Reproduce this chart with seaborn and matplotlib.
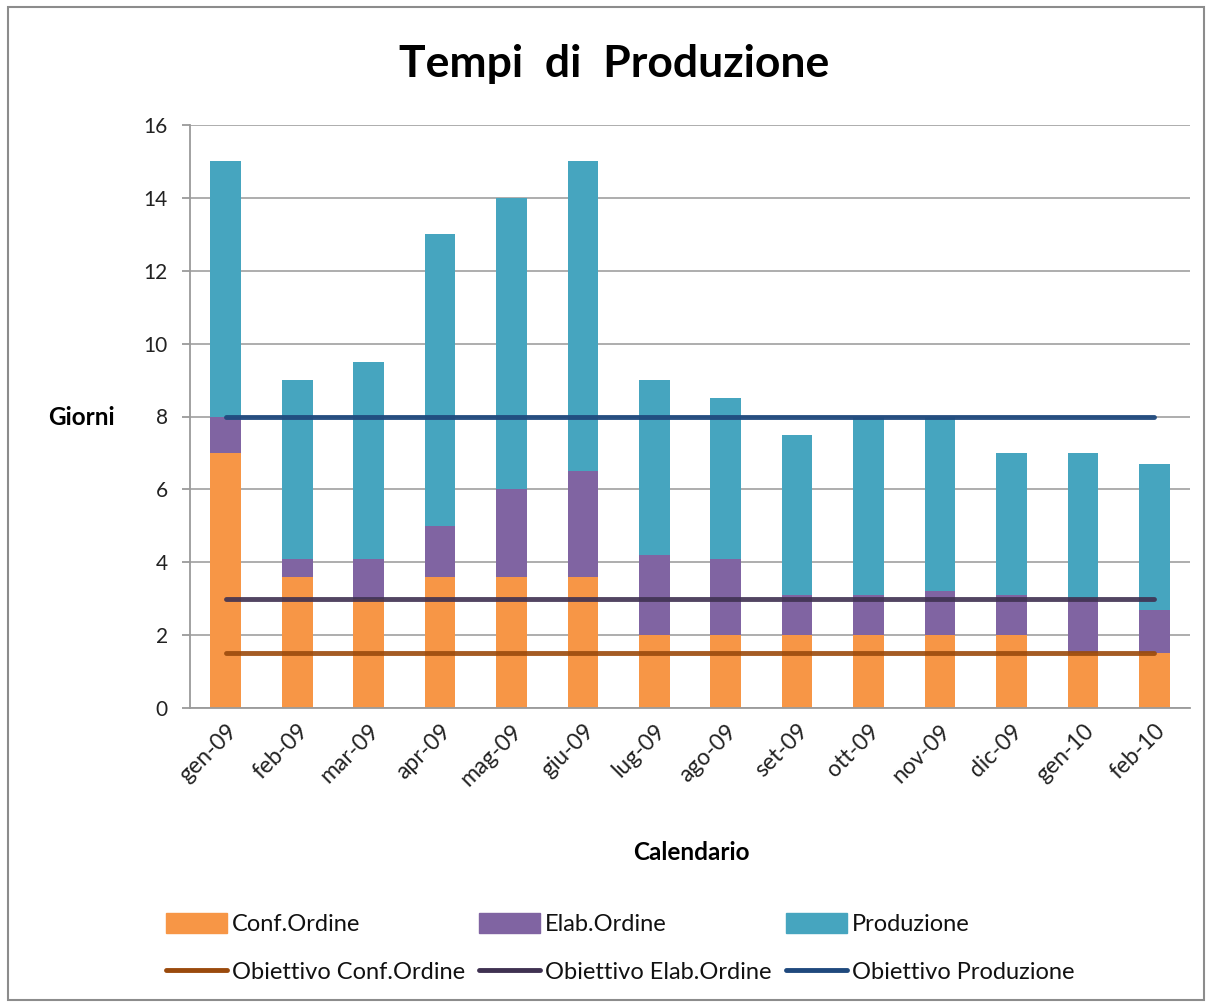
import matplotlib
matplotlib.use("Agg")
import matplotlib.pyplot as plt
import matplotlib.patches as mpatches
import matplotlib.lines as mlines
import seaborn as sns
import numpy as np
import pandas as pd

months = ["gen-09", "feb-09", "mar-09", "apr-09", "mag-09", "giu-09", "lug-09",
          "ago-09", "set-09", "ott-09", "nov-09", "dic-09", "gen-10", "feb-10"]
conf_ordine = [7.0, 3.6, 3.0, 3.6, 3.6, 3.6, 2.0, 2.0, 2.0, 2.0, 2.0, 2.0, 1.5, 1.5]
elab_ordine = [1.0, 0.5, 1.1, 1.4, 2.4, 2.9, 2.2, 2.1, 1.1, 1.1, 1.2, 1.1, 1.5, 1.2]
produzione = [7.0, 4.9, 5.4, 8.0, 8.0, 8.5, 4.8, 4.4, 4.4, 4.9, 4.8, 3.9, 4.0, 4.0]
obiettivo_conf = [1.5] * 14
obiettivo_elab = [3.0] * 14
obiettivo_prod = [8.0] * 14

c_conf = "#F79646"
c_elab = "#8064A2"
c_prod = "#46A5BF"
c_oconf = "#9A4A0C"
c_oelab = "#3F3151"
c_oprod = "#1F497D"

sns.set_style("white")
plt.rcParams["font.family"] = ["Lato", "DejaVu Sans"]
plt.rcParams["text.color"] = "#111111"
plt.rcParams["xtick.labelcolor"] = "#222222"
plt.rcParams["ytick.labelcolor"] = "#222222"

df = pd.DataFrame({"mese": months, "conf": conf_ordine, "elab": elab_ordine, "prod": produzione})
df["top_elab"] = df["conf"] + df["elab"]
df["total"] = df["top_elab"] + df["prod"]

fig = plt.figure(figsize=(12.1, 10.02), dpi=100)
ax = fig.add_axes([190 / 1210, 1 - 708 / 1002, 1000 / 1210, 583 / 1002])

sns.barplot(data=df, x="mese", y="total", color=c_prod, width=0.43, ax=ax,
            saturation=1, linewidth=0, zorder=2)
sns.barplot(data=df, x="mese", y="top_elab", color=c_elab, width=0.43, ax=ax,
            saturation=1, linewidth=0, zorder=2)
sns.barplot(data=df, x="mese", y="conf", color=c_conf, width=0.43, ax=ax,
            saturation=1, linewidth=0, zorder=2)

xpos = np.arange(len(months))
sns.lineplot(x=xpos, y=obiettivo_conf, color=c_oconf, linewidth=3.5, ax=ax, zorder=3, alpha=0.9)
sns.lineplot(x=xpos, y=obiettivo_elab, color=c_oelab, linewidth=3.5, ax=ax, zorder=3, alpha=0.9)
sns.lineplot(x=xpos, y=obiettivo_prod, color=c_oprod, linewidth=3.5, ax=ax, zorder=3, alpha=0.95)

ax.set_xlim(-0.5, len(months) - 0.5)
ax.set_ylim(0, 16)
ax.set_yticks(np.arange(0, 17, 2))
ax.yaxis.grid(True, color="#A0A0A0", linewidth=1.2, zorder=0)
ax.set_axisbelow(True)
for s in ["top", "right"]:
    ax.spines[s].set_visible(False)
for s in ["left", "bottom"]:
    ax.spines[s].set_color("#9A9A9A")
    ax.spines[s].set_linewidth(1.3)

ax.set_xticks(xpos)
ax.set_xticklabels(months, rotation=45, ha="right", rotation_mode="anchor", fontsize=16.5)
ax.tick_params(axis="x", length=0, pad=9)
ax.set_xticks(np.arange(-0.5, len(months), 1), minor=True)
ax.tick_params(axis="x", which="minor", length=7, color="#9A9A9A", width=1.3, direction="out")
ax.tick_params(axis="y", labelsize=15, length=6, color="#9A9A9A", width=1.3, direction="out", pad=10, left=True)

ax.set_xlabel("")
ax.set_ylabel("")
fig.text(691 / 1210, 1 - 852 / 1002, "Calendario", fontsize=17.5, fontweight="bold",
         ha="center", va="center", color="black")
fig.text(81 / 1210, 1 - 418 / 1002, "Giorni", fontsize=17.5, fontweight="bold", ha="center",
         va="center", color="black")

fig.text(614 / 1210, 1 - 64 / 1002, "Tempi  di  Produzione", fontsize=32, fontweight="bold",
         ha="center", va="center", color="black")

handles = [
    mpatches.Patch(color=c_conf, label="Conf.Ordine"),
    mlines.Line2D([], [], color=c_oconf, linewidth=3.5, label="Obiettivo Conf.Ordine"),
    mpatches.Patch(color=c_elab, label="Elab.Ordine"),
    mlines.Line2D([], [], color=c_oelab, linewidth=3.5, label="Obiettivo Elab.Ordine"),
    mpatches.Patch(color=c_prod, label="Produzione"),
    mlines.Line2D([], [], color=c_oprod, linewidth=3.5, label="Obiettivo Produzione"),
]
fig.legend(handles=handles, ncol=3, loc="center", bbox_to_anchor=(620 / 1210, 1 - 948 / 1002),
           frameon=False, fontsize=17, handlelength=2.6, handleheight=0.9, handletextpad=0.2,
           columnspacing=0.6, labelspacing=1.1, labelcolor="#111111")

fig.add_artist(mpatches.Rectangle((8 / 1210, 2 / 1002), 1196 / 1210, 993 / 1002,
                                  transform=fig.transFigure, fill=False, edgecolor="#8C8C8C",
                                  linewidth=1.5))

fig.savefig("out.png", dpi=100)
